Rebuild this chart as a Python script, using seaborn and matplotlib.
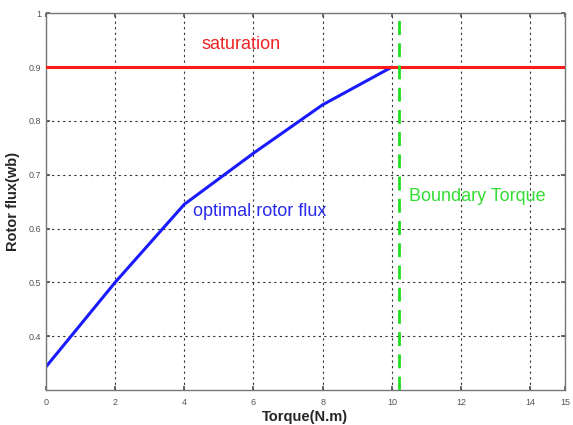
import matplotlib
matplotlib.use("Agg")
import matplotlib.pyplot as plt
import seaborn as sns
import pandas as pd

# data
torque = [0, 2, 4, 6, 8, 10]
rotor_flux = [0.343, 0.50, 0.645, 0.74, 0.83, 0.90]
saturation_level = 0.9
boundary_torque = 10.2
x_ticks = [0, 2, 4, 6, 8, 10, 12, 14, 15]
y_ticks = [0.4, 0.5, 0.6, 0.7, 0.8, 0.9, 1.0]
y_tick_labels = ["0.4", "0.5", "0.6", "0.7", "0.8", "0.9", "1"]

sns.set_theme(style="white")
plt.rcParams['font.family'] = ['Liberation Sans', 'DejaVu Sans']

fig = plt.figure(figsize=(5.73, 4.25), dpi=100)
ax = fig.add_axes([0.080, 0.082, 0.906, 0.887])

df = pd.DataFrame({"Torque": torque, "Flux": rotor_flux})
sns.lineplot(data=df, x="Torque", y="Flux", ax=ax, color="#1a1aff", linewidth=2.2)
ax.axhline(saturation_level, color="#ff1a1a", linewidth=2.2, zorder=3)
ax.axvline(boundary_torque, color="#22dd22", linewidth=2.0, linestyle=(0, (5, 3)), zorder=3)

ax.set_xlim(0, 15)
ax.set_ylim(0.3, 1.0)
ax.set_xticks(x_ticks)
ax.set_xticklabels([str(t) for t in x_ticks])
ax.set_yticks(y_ticks)
ax.set_yticklabels(y_tick_labels)
ax.tick_params(direction="in", length=3, labelsize=6.5, colors="#555555",
               top=True, right=True, bottom=True, left=True)
ax.tick_params(axis="x", pad=6)
ax.grid(True, color="#333333", linestyle=(0, (2, 3)), linewidth=0.8)
for s in ax.spines.values():
    s.set_color("#777777")
    s.set_linewidth(1.0)

ax.set_xlabel("Torque(N.m)", fontsize=10.5, fontweight="bold", labelpad=2)
ax.set_ylabel("Rotor flux(wb)", fontsize=10.5, fontweight="bold", labelpad=6)

ax.text(4.5, 0.942, "saturation", color="#ee2222", fontsize=13, va="center", ha="left")
ax.text(4.25, 0.632, "optimal rotor flux", color="#2a2aee", fontsize=13, va="center", ha="left")
ax.text(10.5, 0.66, "Boundary Torque", color="#33dd33", fontsize=13, va="center", ha="left")

fig.savefig("out.png", dpi=100)
